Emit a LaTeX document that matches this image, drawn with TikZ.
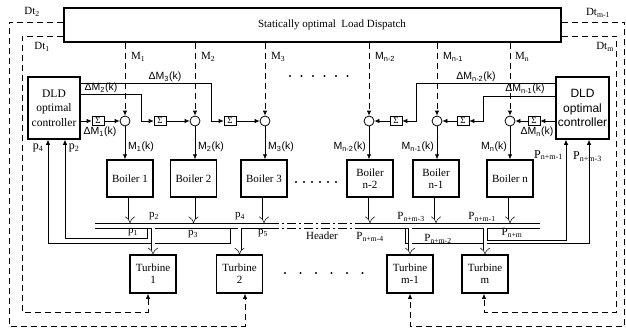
\documentclass[tikz,border=0pt]{standalone}
\usepackage{fontspec}
\setmainfont{Liberation Serif}
\setsansfont{Liberation Sans}
\usetikzlibrary{arrows.meta,positioning}

\begin{document}
\begin{tikzpicture}[x=1pt,y=-1pt,
    font=\fontsize{11}{12}\selectfont,
    blk/.style={draw, line width=1.5pt, inner sep=0pt, align=center},
    unitbox/.style={blk, minimum width=46pt, minimum height=37pt},
    ctrlbox/.style={blk, minimum width=52pt, minimum height=62pt, font=\fontsize{11.5}{14.5}\selectfont},
    sumbox/.style={draw, line width=0.6pt, minimum width=12pt, minimum height=9pt, inner sep=0pt, font=\fontsize{9}{9}\selectfont},
    junc/.style={draw, circle, line width=0.8pt, minimum size=10pt, inner sep=0pt},
    sig/.style={line width=0.8pt, -{Latex[length=5pt,width=4.5pt]}},
    dsig/.style={sig, dash pattern=on 6pt off 4pt},
    steam/.style={double, double distance=3pt, line width=0.5pt, -{Implies}},
    sflab/.style={font=\sffamily\fontsize{10.5}{12}\selectfont, inner sep=1pt},
    lab/.style={inner sep=1pt}
  ]
  \useasboundingbox (0,0) rectangle (626,333);

  % load dispatch
  \node[blk, minimum width=497pt, minimum height=34pt] (lds) at (312.5,25) {};
  \node[lab] (ldstxt) at (332,25) {Statically optimal\ \ Load Dispatch};

  % controllers
  \node[ctrlbox] (dldL) at (54,108) {DLD\\optimal\\controller};
  \node[ctrlbox, font=\sffamily\fontsize{12}{14.5}\selectfont, minimum width=53pt] (dldR) at (582.5,108) {DLD\\optimal\\controller};

  % junctions and sums
  \foreach \i/\x in {1/125,2/195,3/265,4/369,5/437,6/510}
    \node[junc] (c\i) at (\x,121) {};
  \foreach \i/\x in {1/98,2/160,3/230,4/396,5/463,6/534}
    \node[sumbox] (s\i) at (\x,121) {Σ};

  % boilers
  \foreach \i/\x/\txt in {1/130/{Boiler 1},2/193.5/{Boiler 2},3/264/{Boiler 3},
                          4/370/{Boiler\\n-2},5/436/{Boiler\\n-1},6/510/{Boiler n}}
    \node[unitbox] (b\i) at (\x,178.5) {\txt};

  % turbines
  \foreach \i/\x/\txt in {1/153/{Turbine\\1},2/239.5/{Turbine\\2},3/410/{Turbine\\m-1},4/485/{Turbine\\m}}
    \node[unitbox, minimum height=38pt] (t\i) at (\x,274) {\txt};

  % dispatch signals
  \foreach \i in {1,...,6} {
    \draw[dsig] (lds.south -| c\i) -- (c\i);
    \draw[sig] (c\i) -- (c\i |- b\i.north);
  }
  \node[lab, anchor=west] (m1) at (130,57) {M\textsubscript{1}};
  \node[lab, anchor=west] (m2) at (200,57) {M\textsubscript{2}};
  \node[lab, anchor=west] (m3) at (270,57) {M\textsubscript{3}};
  \node[sflab, anchor=west] (m4) at (374,57) {M\textsubscript{n-2}};
  \node[sflab, anchor=west] (m5) at (442,57) {M\textsubscript{n-1}};
  \node[lab, anchor=west] (m6) at (514,57) {M\textsubscript{n}};

  \node[sflab, anchor=west] (mk1) at (127,147) {M\textsubscript{1}(k)};
  \node[sflab, anchor=west] (mk2) at (197,147) {M\textsubscript{2}(k)};
  \node[sflab, anchor=west] (mk3) at (267,147) {M\textsubscript{3}(k)};
  \node[sflab, anchor=east] (mk4) at (367,147) {M\textsubscript{n-2}(k)};
  \node[sflab, anchor=east] (mk5) at (435,147) {M\textsubscript{n-1}(k)};
  \node[sflab, anchor=east] (mk6) at (508,147) {M\textsubscript{n}(k)};

  % corrections, left controller
  \draw[sig] (dldL.east |- s1) -- (s1);
  \draw[sig] ([yshift=14pt]dldL.east) -- ++(61,0) |- (s2);
  \draw[sig] ([yshift=25pt]dldL.east) -- ++(131,0) |- (s3);
  \foreach \i in {1,2,3}
    \draw[sig] (s\i) -- (c\i);
  \node[sflab] (dm1) at (100,132) {ΔM\textsubscript{1}(k)};
  \node[sflab] (dm2) at (101,88) {ΔM\textsubscript{2}(k)};
  \node[sflab] (dm3) at (165,77) {ΔM\textsubscript{3}(k)};

  % corrections, right controller
  \draw[sig] (dldR.west |- s6) -- (s6);
  \draw[sig] ([yshift=12pt]dldR.west) -- ++(-72,0) |- (s5);
  \draw[sig] ([yshift=25pt]dldR.west) -- ++(-139,0) |- (s4);
  \foreach \i in {4,5,6}
    \draw[sig] (s\i) -- (c\i);
  \node[sflab] (dm6) at (537,132) {ΔM\textsubscript{n}(k)};
  \node[sflab] (dm5) at (525,89) {ΔM\textsubscript{n-1}(k)};
  \node[sflab] (dm4) at (476,77) {ΔM\textsubscript{n-2}(k)};

  % header
  \coordinate (hup) at (95,223);
  \coordinate (hlo) at (95,228);
  \foreach \y in {223,228} {
    \draw[line width=0.8pt] (95,\y) -- (270,\y);
    \draw[line width=0.8pt, dash pattern=on 9pt off 3pt on 2pt off 3pt] (270,\y) -- (355,\y);
    \draw[line width=0.8pt] (355,\y) -- (540,\y);
  }

  % pressure feedback
  \coordinate (tapA) at (230,228);
  \coordinate (tapB) at (147,228);
  \coordinate (tapC) at (487,228);
  \coordinate (tapD) at (405,228);
  \draw[sig] (tapA) -- ++(0,15) -| ([xshift=-6pt]dldL.south);
  \draw[sig] (tapB) -- ++(0,10) -| ([xshift=11pt]dldL.south);
  \draw[sig] (tapC) -- ++(0,12) -| ([xshift=-16.5pt]dldR.south);
  \draw[sig] (tapD) -- ++(0,15) -| ([xshift=6.5pt]dldR.south);
  \node[lab, font=\fontsize{12}{12}\selectfont] (fp4) at (38,148) {p\textsubscript{4}};
  \node[lab, font=\fontsize{12}{12}\selectfont] (fp2) at (74,148) {p\textsubscript{2}};
  \node[lab, anchor=east, font=\fontsize{12}{12}\selectfont] (fpa) at (564,155) {P\textsubscript{n+m-1}};
  \node[lab, anchor=west, font=\fontsize{12}{12}\selectfont] (fpb) at (572,157) {P\textsubscript{n+m-3}};

  % steam flow
  \foreach \i in {1,...,6}
    \draw[steam] (b\i.south) -- (b\i.south |- hup);
  \foreach \i in {1,...,4}
    \draw[steam] (t\i.north |- hlo) -- (t\i.north);

  % header labels
  \node[lab] (hp1) at (133,232) {p\textsubscript{1}};
  \node[lab] (hp2) at (154,216) {p\textsubscript{2}};
  \node[lab] (hp3) at (193,234) {p\textsubscript{3}};
  \node[lab] (hp4) at (240,216) {p\textsubscript{4}};
  \node[lab] (hp5) at (263,233) {p\textsubscript{5}};
  \node[lab] (hdr) at (322,236) {Header};
  \node[lab] (hp6) at (370,237) {P\textsubscript{n+m-4}};
  \node[lab] (hp7) at (411,217) {P\textsubscript{n+m-3}};
  \node[lab] (hp8) at (482,217) {P\textsubscript{n+m-1}};
  \node[lab] (hp9) at (438,239) {P\textsubscript{n+m-2}};
  \node[lab] (hp10) at (512,233) {P\textsubscript{n+m}};

  % turbine valve settings
  \draw[dsig] ([yshift=3pt]lds.west) -- ++(-54,0) -- ++(0,304) -| ([xshift=5.5pt]t2.south);
  \draw[dsig] ([yshift=-11pt]lds.west) -- ++(-41,0) -- ++(0,276) -| ([xshift=-5pt]t1.south);
  \draw[dsig] ([yshift=3pt]lds.east) -- ++(63,0) -- ++(0,304) -| (t3.south);
  \draw[dsig] ([yshift=-11pt]lds.east) -- ++(55,0) -- ++(0,276) -| ([xshift=-1pt]t4.south);
  \node[lab] (dt2) at (32,12) {Dt\textsubscript{2}};
  \node[lab] (dt1) at (42,47) {Dt\textsubscript{1}};
  \node[lab] (dtm1) at (598,13) {Dt\textsubscript{m-1}};
  \node[lab] (dtm) at (605,47) {Dt\textsubscript{m}};

  % dots
  \foreach \x in {290,301.5,313,324.5,336,347.5}
    \fill (\x,76) circle (1.2pt);
  \foreach \x in {296,304,312,320,328,336}
    \fill (\x,182) circle (1.1pt);
  \foreach \x in {285,300.5,316,331.5,347,362.5}
    \fill (\x,273) circle (1.2pt);
\end{tikzpicture}
\end{document}
